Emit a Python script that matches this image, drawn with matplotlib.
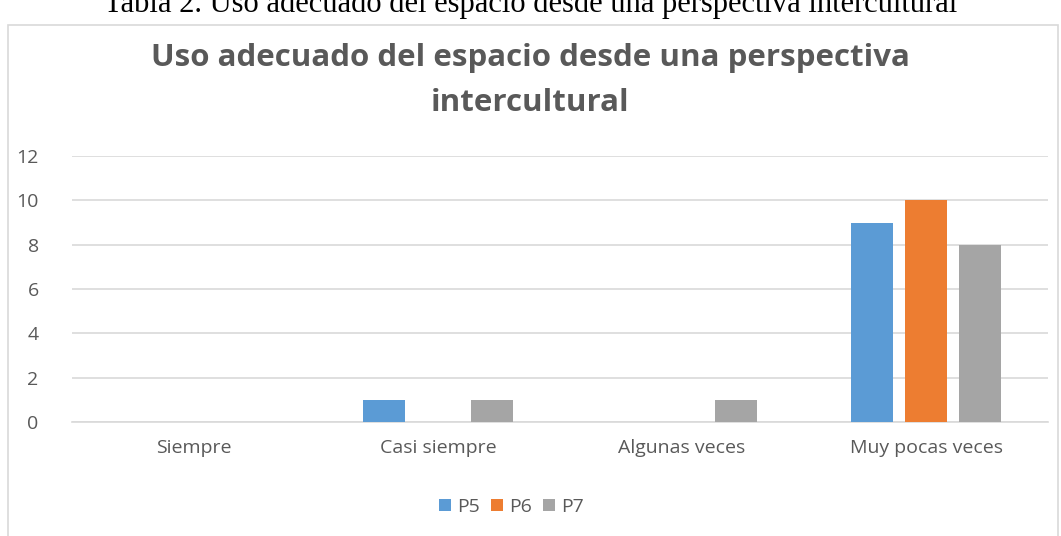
import matplotlib
matplotlib.use('Agg')
import matplotlib.pyplot as plt
from matplotlib.patches import Rectangle
import numpy as np

# data
categories = ["Siempre", "Casi siempre", "Algunas veces", "Muy pocas veces"]
series_names = ["P5", "P6", "P7"]
p5 = [0, 1, 0, 9]
p6 = [0, 0, 0, 10]
p7 = [0, 1, 1, 8]
yticks = [0, 2, 4, 6, 8, 10, 12]
colors = ["#5B9BD5", "#ED7D31", "#A5A5A5"]

plt.rcParams['font.family'] = ['Open Sans', 'DejaVu Sans']
text_color = "#595959"
grid_color = "#D9D9D9"

fig = plt.figure(figsize=(10.61, 5.36), dpi=100)

# caption above the chart (cut at the top in the original)
fig.text(0.5, 1 - 12 / 536, "Tabla 2. Uso adecuado del espacio desde una perspectiva intercultural",
         ha='center', va='baseline', fontsize=22, family='Liberation Serif', color='black')

# chart border
fig.patches.append(Rectangle((8 / 1061, -0.01), 1050 / 1061, 1 - 25 / 536 + 0.01,
                             transform=fig.transFigure, fill=False,
                             edgecolor=grid_color, linewidth=1.2))

# title
fig.text(0.5, 1 - 58 / 536, "Uso adecuado del espacio desde una perspectiva",
         ha='center', va='center', fontsize=22.5, fontweight='bold', color=text_color)
fig.text(0.5, 1 - 103 / 536, "intercultural",
         ha='center', va='center', fontsize=22.5, fontweight='bold', color=text_color)

ax = fig.add_axes([72 / 1061, 1 - 422 / 536, 976 / 1061, 266 / 536])

x = np.arange(len(categories))
width = 0.172
offsets = [-0.22, 0, 0.22]
data = [p5, p6, p7]
for i in range(3):
    ax.bar(x + offsets[i], data[i], width, color=colors[i], label=series_names[i], zorder=3)

ax.set_xlim(-0.5, len(categories) - 0.5)
ax.set_ylim(0, 12)
ax.set_yticks(yticks)
ax.set_xticks(x)
ax.set_xticklabels(categories)
ax.yaxis.grid(True, color=grid_color, linewidth=1.2, zorder=0)
ax.tick_params(axis='both', length=0, labelsize=14, colors=text_color)
ax.tick_params(axis='y', pad=24)
ax.tick_params(axis='x', pad=12)
for side in ['top', 'right', 'left']:
    ax.spines[side].set_visible(False)
ax.spines['bottom'].set_color(grid_color)
ax.spines['bottom'].set_linewidth(1.2)

leg = fig.legend(loc='center', bbox_to_anchor=(0.482, 1 - 507 / 536), ncol=3, frameon=False,
                 fontsize=14, handlelength=0.6, handleheight=0.6, handletextpad=0.3,
                 columnspacing=0.6)
for t in leg.get_texts():
    t.set_color(text_color)

plt.savefig("out.png", dpi=100)
